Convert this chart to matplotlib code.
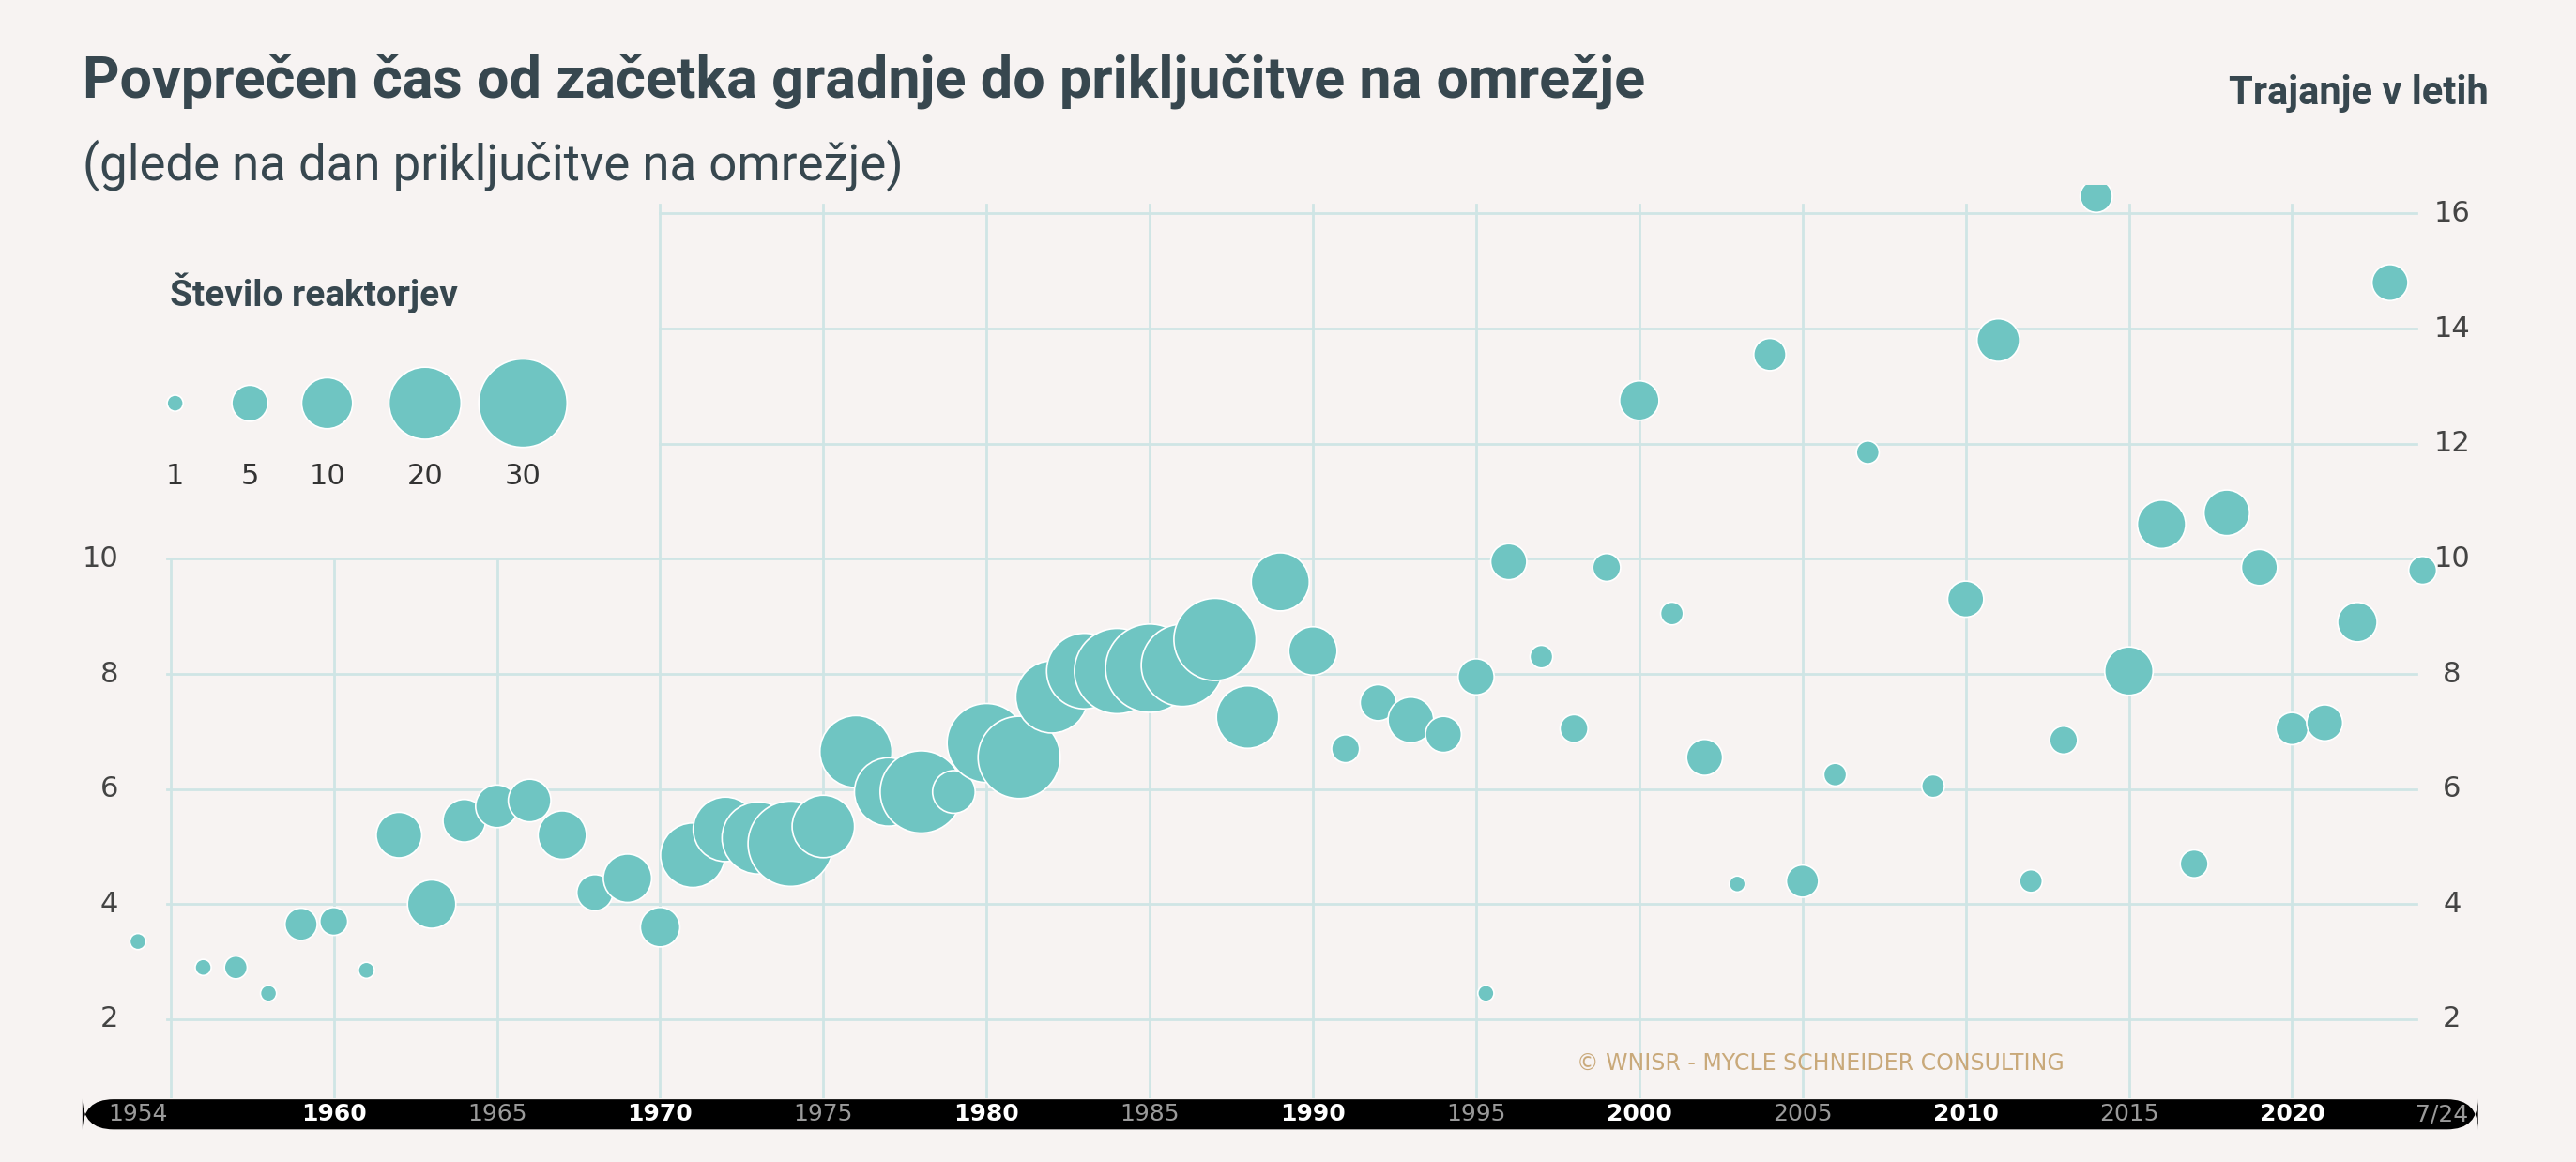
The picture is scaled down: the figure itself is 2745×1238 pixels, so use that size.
import matplotlib
matplotlib.use("Agg")
import matplotlib.pyplot as plt
from matplotlib.patches import FancyBboxPatch
from matplotlib import font_manager as fm

years = [1954,1956,1957,1958,1959,1960,1961,1962,1963,1964,1965,1966,1967,1968,1969,1970,
         1971,1972,1973,1974,1975,1976,1977,1978,1979,1980,1981,1982,1983,1984,1985,1986,1987,
         1988,1989,1990,1991,1992,1993,1994,1995,1995.3,1996,1997,1998,1999,2000,2001,2002,2003,
         2004,2005,2006,2007,2009,2010,2011,2012,2013,2014,2015,2016,2017,2018,2019,2020,2021,
         2022,2023,2024]
duration = [3.35,2.9,2.9,2.45,3.65,3.7,2.85,5.2,4.0,5.45,5.7,5.8,5.2,4.2,4.45,3.6,
            4.85,5.3,5.15,5.05,5.35,6.65,5.95,5.95,5.95,6.8,6.55,7.6,8.05,8.05,8.1,8.15,8.6,
            7.25,9.6,8.4,6.7,7.5,7.2,6.95,7.95,2.45,9.95,8.3,7.05,9.85,12.75,9.05,6.55,4.35,
            13.55,4.4,6.25,11.85,6.05,9.3,13.8,4.4,6.85,16.3,8.05,10.6,4.7,10.8,9.85,7.05,7.15,
            8.9,14.8,9.8]
reactors = [1,1,2,1,4,3,1,8,9,7,7,7,9,5,9,6,
            16,16,20,28,15,20,18,26,7,24,26,20,22,28,30,26,26,
            15,13,9,3,5,8,5,5,1,5,2,3,3,6,2,5,1,
            4,4,2,2,2,5,7,2,3,4,9,9,3,8,5,4,5,
            6,5,3]
legend_counts = [1,5,10,20,30]
left_yticks = [2,4,6,8,10]
right_yticks = [2,4,6,8,10,12,14,16]
xtick_years = [1954,1960,1965,1970,1975,1980,1985,1990,1995,2000,2005,2010,2015,2020]
xtick_labels = ["1954","1960","1965","1970","1975","1980","1985","1990","1995","2000","2005","2010","2015","2020"]

BG = "#f7f3f2"; TEAL = "#6fc5c2"; GRID = "#cfe5e5"; DARK = "#37474f"
avail = {f.name for f in fm.fontManager.ttflist}
COND = "Liberation Sans Narrow" if "Liberation Sans Narrow" in avail else "Roboto"

fig = plt.figure(figsize=(27.45, 12.38), dpi=100, facecolor=BG)
ax = fig.add_axes([0.032, 0.055, 0.93, 0.786])
ax.set_facecolor(BG)
X0, X1 = 1952.3, 2025.7
ax.set_xlim(X0, X1); ax.set_ylim(0.63, 16.5)
for s in ax.spines.values(): s.set_visible(False)
ax.set_xticks([]); ax.set_yticks([])

# grid
for y in right_yticks:
    xs = 1954.9 if y <= 10 else 1970
    ax.plot([xs, 2023.8], [y, y], color=GRID, lw=2, zorder=0)
for x in range(1955, 2021, 5):
    ax.plot([x, x], [0.63, 10 if x < 1970 else 16.15], color=GRID, lw=2, zorder=0)

S = 153
ax.scatter(years, duration, s=[S*r for r in reactors], color=TEAL, edgecolor="white",
           linewidth=1.2, zorder=3)

for y in left_yticks:
    ax.text(1953.4, y, str(y), ha="right", va="center", fontsize=22, color="#444")
for y in right_yticks:
    ax.text(2024.9, y, str(y), ha="center", va="center", fontsize=22, color="#444")

# bottom bar
bar = FancyBboxPatch((0.032, 0.028), 0.93, 0.026, boxstyle="round,pad=0,rounding_size=0.012",
                     transform=fig.transFigure, facecolor="black", edgecolor="none",
                     mutation_aspect=2745/1238)
fig.patches.append(bar)
tr = ax.get_xaxis_transform()
for yr, lab in zip(xtick_years, xtick_labels):
    bold = yr % 10 == 0
    fig.text(ax.transData.transform((yr, 1))[0] / fig.dpi / 27.45, 0.041, lab, ha="center", va="center",
             fontsize=18, color="white" if bold else "#9a9a9a", fontweight="bold" if bold else "normal")
fig.text(ax.transData.transform((2024.6, 1))[0] / fig.dpi / 27.45, 0.041, "7/24", ha="center",
         va="center", fontsize=18, color="#9a9a9a")

# titles
fig.text(0.032, 0.93, "Povprečen čas od začetka gradnje do priključitve na omrežje", fontsize=44,
         fontweight="bold", color=DARK, family=COND, va="center")
fig.text(0.032, 0.858, "(glede na dan priključitve na omrežje)", fontsize=38, color=DARK,
         family=COND, va="center")
fig.text(0.966, 0.92, "Trajanje v letih", fontsize=30, fontweight="bold", color=DARK,
         family=COND, ha="right", va="center")

# legend
fig.text(0.066, 0.748, "Število reaktorjev", fontsize=28, fontweight="bold", color=DARK,
         family=COND, va="center")
lx = [0.068, 0.097, 0.127, 0.165, 0.203]
lax = fig.add_axes([0, 0, 1, 1], facecolor="none"); lax.set_xlim(0, 1); lax.set_ylim(0, 1); lax.axis("off")
lax.scatter(lx, [0.653]*5, s=[S*c for c in legend_counts], color=TEAL, edgecolor="white", lw=1.2)
for x, c in zip(lx, legend_counts):
    lax.text(x, 0.59, str(c), ha="center", va="center", fontsize=22, color="#333")

fig.text(0.612, 0.085, "© WNISR - MYCLE SCHNEIDER CONSULTING", fontsize=17, color="#c9a97a",
         va="center")

fig.savefig("out.png", dpi=100, facecolor=BG)
